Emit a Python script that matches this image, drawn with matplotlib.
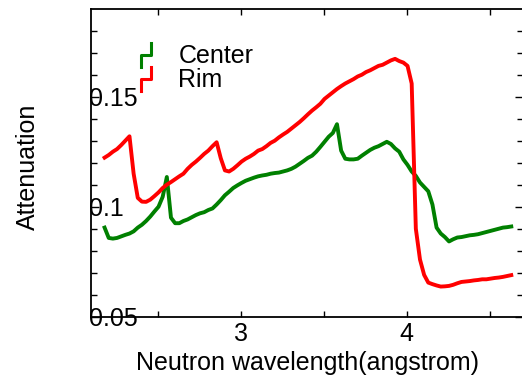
import numpy as np
import matplotlib
matplotlib.use("Agg")
import matplotlib.pyplot as plt
from matplotlib.lines import Line2D
from matplotlib.legend_handler import HandlerBase

plt.rcParams['font.family'] = ['Liberation Sans', 'DejaVu Sans']

# wavelength bins (angstrom)
wavelength = np.round(np.arange(2.18, 4.6301, 0.025), 3)

center = [0.0905, 0.0858, 0.0855, 0.0858, 0.0865, 0.0872, 0.0878, 0.0888, 0.0905, 0.0918,
          0.0935, 0.0955, 0.0978, 0.1000, 0.1045, 0.1135, 0.0950, 0.0925, 0.0925, 0.0935,
          0.0942, 0.0952, 0.0962, 0.0970, 0.0975, 0.0985, 0.0992, 0.1010, 0.1030, 0.1052,
          0.1068, 0.1085, 0.1097, 0.1108, 0.1118, 0.1125, 0.1132, 0.1138, 0.1142, 0.1145,
          0.1150, 0.1153, 0.1155, 0.1160, 0.1165, 0.1172, 0.1182, 0.1195, 0.1208, 0.1222,
          0.1232, 0.1250, 0.1272, 0.1295, 0.1318, 0.1335, 0.1375, 0.1255, 0.1218, 0.1215,
          0.1215, 0.1218, 0.1232, 0.1245, 0.1258, 0.1268, 0.1275, 0.1285, 0.1295, 0.1285,
          0.1265, 0.1250, 0.1215, 0.1190, 0.1160, 0.1140, 0.1110, 0.1090, 0.1070, 0.1010,
          0.0905, 0.0878, 0.0862, 0.0842, 0.0852, 0.0860, 0.0862, 0.0866, 0.0870, 0.0872,
          0.0875, 0.0880, 0.0885, 0.0890, 0.0895, 0.0900, 0.0905, 0.0907, 0.0910]

rim = [0.1223, 0.1235, 0.1250, 0.1262, 0.1280, 0.1300, 0.1320, 0.1150, 0.1040, 0.1023,
       0.1022, 0.1032, 0.1048, 0.1065, 0.1085, 0.1100, 0.1112, 0.1125, 0.1138, 0.1150,
       0.1172, 0.1190, 0.1205, 0.1222, 0.1240, 0.1255, 0.1275, 0.1293, 0.1220, 0.1165,
       0.1160, 0.1172, 0.1188, 0.1205, 0.1218, 0.1228, 0.1240, 0.1255, 0.1262, 0.1275,
       0.1290, 0.1300, 0.1315, 0.1328, 0.1340, 0.1355, 0.1370, 0.1385, 0.1402, 0.1420,
       0.1437, 0.1452, 0.1468, 0.1490, 0.1505, 0.1520, 0.1535, 0.1548, 0.1560, 0.1570,
       0.1580, 0.1592, 0.1600, 0.1612, 0.1620, 0.1630, 0.1640, 0.1645, 0.1655, 0.1665,
       0.1672, 0.1662, 0.1655, 0.1640, 0.1560, 0.0900, 0.0760, 0.0690, 0.0655, 0.0648,
       0.0642, 0.0637, 0.0638, 0.0640, 0.0645, 0.0652, 0.0658, 0.0660, 0.0662, 0.0665,
       0.0667, 0.0670, 0.0670, 0.0673, 0.0676, 0.0678, 0.0681, 0.0685, 0.0689]

series_names = ['Center', 'Rim']
x_ticks = [3, 4]
x_minor = [2.5, 3.5, 4.5]
y_ticks = [0.05, 0.1, 0.15]
y_ticklabels = ['0.05', '0.1', '0.15']


class StepHandler(HandlerBase):
    # little step glyph like the original legend
    def create_artists(self, legend, orig_handle, xdescent, ydescent, width, height, fontsize, trans):
        x0 = -xdescent
        y0 = -ydescent
        xs = [x0, x0, x0 + width, x0 + width]
        ys = [y0 - 0.2 * height, y0 + 0.45 * height, y0 + 0.45 * height, y0 + 1.15 * height]
        line = Line2D(xs, ys, color=orig_handle.get_color(), linewidth=2.2, transform=trans)
        return [line]


fig = plt.figure(figsize=(5.22, 3.80), dpi=100)
ax = fig.add_axes([91.3 / 522, 63.3 / 380, 431.6 / 522, 308 / 380])

l1, = ax.plot(wavelength, center, color='#008000', linewidth=2.8)
l2, = ax.plot(wavelength, rim, color='#ff0000', linewidth=2.8)

ax.set_xlim(2.1, 4.7)
ax.set_ylim(0.05, 0.19)
ax.set_xticks(x_ticks)
ax.set_xticks(x_minor, minor=True)
ax.set_yticks(y_ticks)
ax.set_yticklabels(y_ticklabels)
ax.set_yticks(np.round(np.arange(0.06, 0.19, 0.01), 2), minor=True)

ax.tick_params(which='both', direction='in', top=True, right=True, width=1.0, labelsize=18)
ax.tick_params(axis='x', which='both', length=4)
ax.tick_params(axis='y', which='major', length=6, pad=2)
ax.tick_params(axis='y', which='minor', length=4.5)
for lab in ax.get_yticklabels():
    lab.set_horizontalalignment('left')

for s in ax.spines.values():
    s.set_linewidth(1.3)

ax.set_xlabel('Neutron wavelength(angstrom)', fontsize=18)
ax.xaxis.set_label_coords(0.5, -0.11)
ax.set_ylabel('Attenuation', fontsize=18)
ax.yaxis.set_label_coords(-0.119, 0.487)

ax.legend([l1, l2], series_names, handler_map={Line2D: StepHandler()},
          loc='upper left', bbox_to_anchor=(141 / 522, 1 - 44 / 380),
          bbox_transform=fig.transFigure, frameon=False, fontsize=18,
          handlelength=0.4, handletextpad=1.1, labelspacing=0.0,
          borderpad=0, borderaxespad=0)

fig.savefig('out.png', dpi=100)
